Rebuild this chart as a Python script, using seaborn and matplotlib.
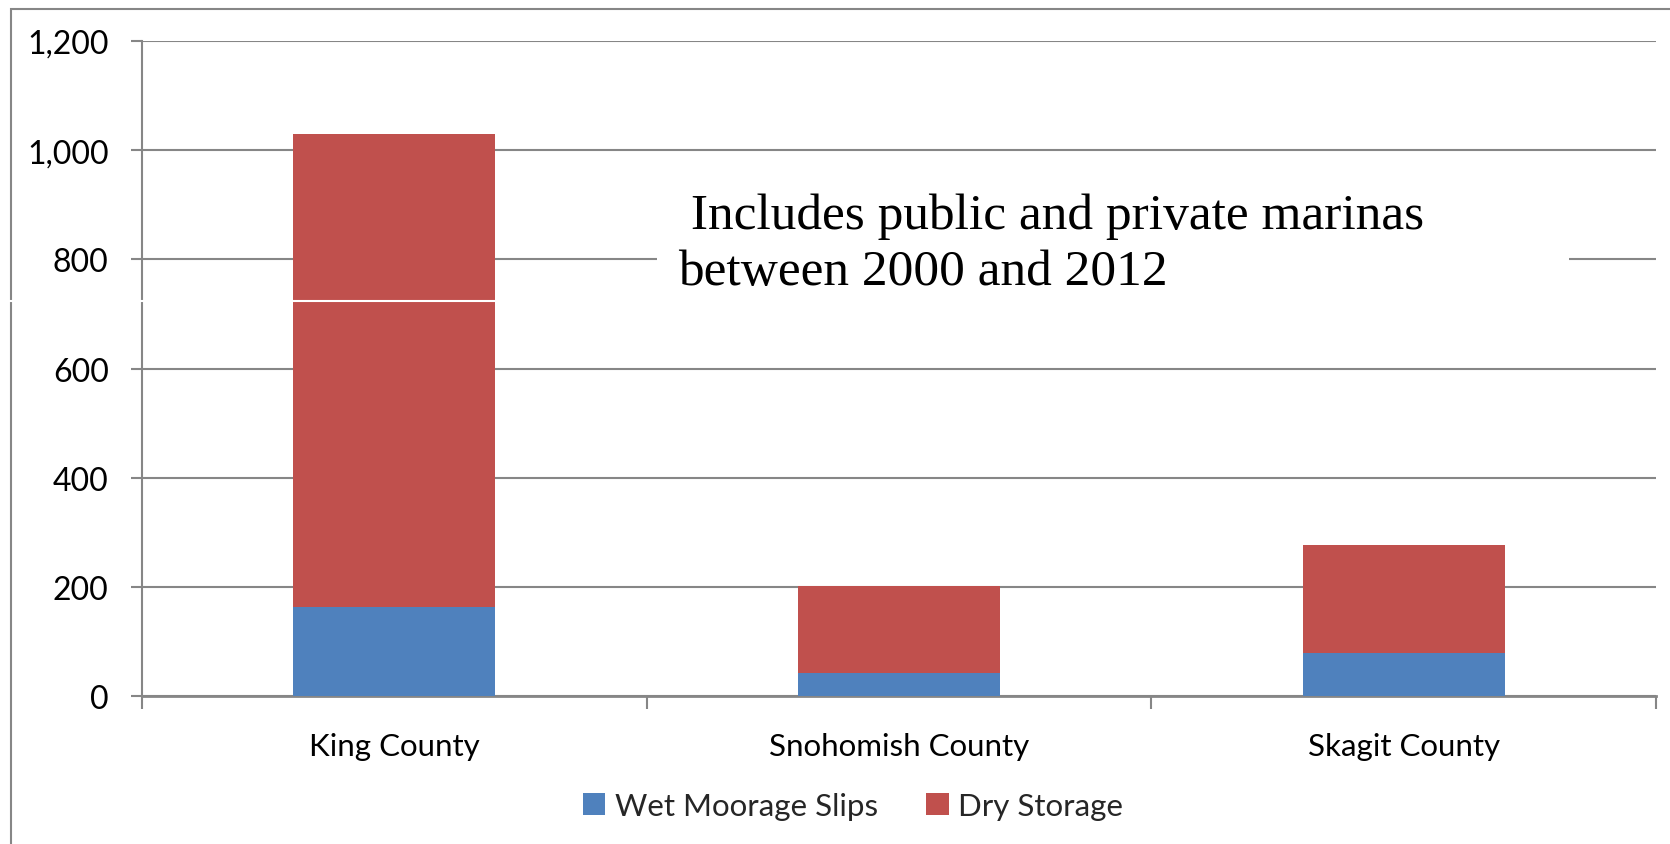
import matplotlib
matplotlib.use("Agg")
import matplotlib.pyplot as plt
import matplotlib.ticker as mticker
from matplotlib.patches import Rectangle, Patch
from matplotlib.lines import Line2D
import seaborn as sns
import pandas as pd

# Marina slips by county
counties = ["King County", "Snohomish County", "Skagit County"]
wet_moorage = [163, 43, 79]
dry_storage = [867, 159, 197]
series_names = ["Wet Moorage Slips", "Dry Storage"]
y_ticks = [0, 200, 400, 600, 800, 1000, 1200]
note = " Includes public and private marinas\nbetween 2000 and 2012"

BLUE = "#4F81BD"
RED = "#C0504D"
GRID = "#868686"

sns.set_theme(style="white")
plt.rcParams["font.family"] = ["Lato", "DejaVu Sans"]

df = pd.DataFrame({
    "county": counties,
    "wet": wet_moorage,
    "total": [w + d for w, d in zip(wet_moorage, dry_storage)],
})

W, H = 1670, 845
fig = plt.figure(figsize=(W / 100, H / 100), dpi=100)
ax = fig.add_axes([142 / W, 1 - 697 / H, (1656 - 142) / W, (697 - 42) / H])

# stacked bars: full height in red, wet portion in blue on top of it
sns.barplot(data=df, x="county", y="total", color=RED, saturation=1,
            width=0.4, ax=ax, zorder=3, edgecolor="none")
sns.barplot(data=df, x="county", y="wet", color=BLUE, saturation=1,
            width=0.4, ax=ax, zorder=4, edgecolor="none")

ax.set_xlim(-0.5, 2.5)
ax.set_ylim(0, 1200)
ax.set_yticks(y_ticks)
ax.yaxis.set_major_formatter(mticker.StrMethodFormatter("{x:,.0f}"))
ax.set_xlabel("")
ax.set_ylabel("")

ax.grid(axis="y", color=GRID, lw=1.5, zorder=1)
ax.set_axisbelow(True)
for side in ["top", "right"]:
    ax.spines[side].set_visible(False)
ax.spines["left"].set_color(GRID)
ax.spines["left"].set_linewidth(1.5)
ax.spines["bottom"].set_color(GRID)
ax.spines["bottom"].set_linewidth(2)

ax.tick_params(axis="y", which="major", direction="out", length=8, width=1.5,
               color=GRID, pad=16, labelsize=23, left=True, labelcolor="black")
ax.set_xticks([-0.5, 0.5, 1.5, 2.5], minor=True)
ax.tick_params(axis="x", which="minor", direction="out", length=9, width=1.5,
               color=GRID, bottom=True)
ax.tick_params(axis="x", which="major", length=0, pad=26, labelsize=22.5,
               labelcolor="black")

# legend below the plot
handles = [Patch(facecolor=BLUE, edgecolor="none"),
           Patch(facecolor=RED, edgecolor="none")]
fig.legend(handles, series_names, loc="center", bbox_to_anchor=(853 / W, 1 - 807 / H),
           ncol=2, frameon=False, fontsize=22.5, handlelength=0.72, handleheight=0.72,
           handletextpad=0.3, columnspacing=1.55)

# white panel behind the note
fig.add_artist(Rectangle((657 / W, 1 - 330 / H), (1569 - 657) / W, (330 - 165) / H,
                         transform=fig.transFigure, facecolor="white",
                         edgecolor="none", zorder=2))
fig.text(678 / W, 1 - 193 / H, note, ha="left", va="top", fontsize=37,
         family=["Liberation Serif", "DejaVu Serif"], color="black",
         linespacing=1.29, zorder=3)

# outer chart frame
fig.add_artist(Rectangle((11 / W, -0.1), 1.2, 1.1 - 10 / H,
                         transform=fig.transFigure, facecolor="none",
                         edgecolor=GRID, lw=1.5, zorder=4))
fig.add_artist(Line2D([0, 1], [1 - 302 / H, 1 - 302 / H], transform=fig.transFigure,
                      color="white", lw=1.5, zorder=5))

fig.savefig("out.png", dpi=100)
